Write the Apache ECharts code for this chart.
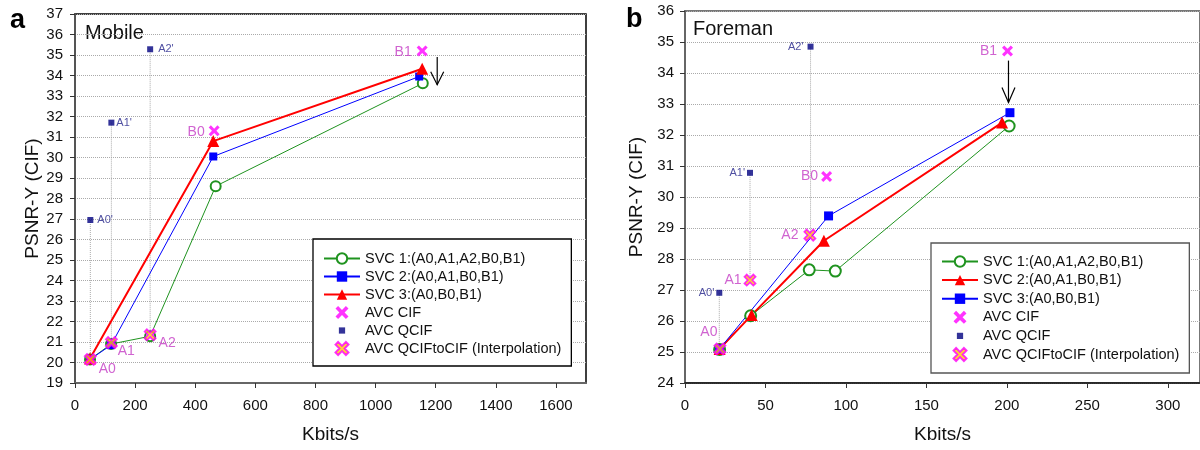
<!DOCTYPE html>
<html><head><meta charset="utf-8">
<script src="https://cdn.jsdelivr.net/npm/echarts@6/dist/echarts.min.js"></script>
<style>html,body{margin:0;padding:0;background:#fff}#c{width:1200px;height:450px}</style>
</head><body><div id="c"></div>
<script>
const FONT = 'Liberation Sans, Arial, sans-serif';

// ---------- Panel a: Mobile ----------
const mobileSvc1X = [50, 120, 250, 468, 1157];
const mobileSvc1Y = [20.15, 20.9, 21.28, 28.6, 33.62];
const mobileSvc2X = [50, 120, 460, 1145];
const mobileSvc2Y = [20.15, 20.85, 30.05, 33.95];
const mobileSvc3X = [50, 460, 1155];
const mobileSvc3Y = [20.2, 30.8, 34.33];
const mobileCifX = [463, 1155];
const mobileCifY = [31.3, 35.2];
const mobileCifLabels = ['B0', 'B1'];
const mobileQcifX = [51, 121, 250];
const mobileQcifY = [26.95, 31.7, 35.28];
const mobileQcifLabels = ["A0'", "A1'", "A2'"];
const mobileInterpX = [51, 121, 250];
const mobileInterpY = [20.15, 20.97, 21.35];
const mobileInterpLabels = ['A0', 'A1', 'A2'];
const mobileArrow = [1205, 34.9, 33.55];
const mobileXTicks = [0, 200, 400, 600, 800, 1000, 1200, 1400, 1600];

// ---------- Panel b: Foreman ----------
const foremanSvc1X = [21.5, 40.8, 77.2, 93.4, 201.4];
const foremanSvc1Y = [25.08, 26.17, 27.65, 27.61, 32.29];
const foremanSvc2X = [21.5, 41.4, 86.3, 197];
const foremanSvc2Y = [25.1, 26.19, 28.59, 32.4];
const foremanSvc3X = [21.5, 89.2, 201.9];
const foremanSvc3Y = [25.1, 29.39, 32.72];
const foremanCifX = [88, 200.4];
const foremanCifY = [30.66, 34.71];
const foremanCifLabels = ['B0', 'B1'];
const foremanQcifX = [21.3, 40.4, 78];
const foremanQcifY = [26.91, 30.78, 34.85];
const foremanQcifLabels = ["A0'", "A1'", "A2'"];
const foremanInterpX = [21.7, 40.4, 77.6];
const foremanInterpY = [25.1, 27.32, 28.77];
const foremanInterpLabels = ['A0', 'A1', 'A2'];
const foremanArrow = [201, 34.4, 33.05];
const foremanXTicks = [0, 50, 100, 150, 200, 250, 300];

const legendLabels = ['SVC 1:(A0,A1,A2,B0,B1)', 'SVC 2:(A0,A1,B0,B1)', 'SVC 3:(A0,B0,B1)',
  'AVC CIF', 'AVC QCIF', 'AVC QCIFtoCIF (Interpolation)'];

// ---------- styles ----------
const X_PATH = 'path://M0,2 L2,0 L5,3 L8,0 L10,2 L7,5 L10,8 L8,10 L5,7 L2,10 L0,8 L3,5 Z';
const QCIF_LEGEND_ICON = 'path://M0,0 M10,10 M2.6,2.6 L7.4,2.6 L7.4,7.4 L2.6,7.4 Z';
const GREEN = '#1f931f', BLUE = '#0000ff', RED = '#ff0000', MAG = '#ff00ff', NAVY = '#000080';
const LABEL_MAG = '#c43cc4', LABEL_NAVY = '#23238a';

function pairs(xs, ys) { return xs.map((x, i) => [x, ys[i]]); }

function lineSeries(name, gi, xs, ys, color, symbol, size, width) {
  return {
    name, type: 'line', xAxisIndex: gi, yAxisIndex: gi, data: pairs(xs, ys),
    symbol, symbolSize: size, showAllSymbol: true, z: 3,
    lineStyle: { color, width },
    itemStyle: { color, borderColor: color, borderWidth: symbol === 'emptyCircle' ? 1 : 0 },
    emphasis: { disabled: true }
  };
}

function scatterSeries(name, gi, xs, ys, labels, labelCfg, symbol, size, itemStyle, labelStyle, z) {
  return {
    name, type: 'scatter', xAxisIndex: gi, yAxisIndex: gi, z,
    symbol, symbolSize: size, itemStyle,
    emphasis: { disabled: true },
    data: xs.map((x, i) => ({
      value: [x, ys[i]],
      label: Object.assign({ show: true, formatter: labels[i] }, labelStyle, labelCfg[i])
    }))
  };
}

function connectors(gi, xs, yTop, yBottom) {
  return xs.map((x, i) => ({
    type: 'line', xAxisIndex: gi, yAxisIndex: gi, silent: true, z: 1,
    symbol: 'none', data: [[x, yTop[i]], [x, yBottom[i]]],
    lineStyle: { type: 'dotted', color: '#aaa', width: 1 }
  }));
}

function arrowSeries(gi, arrow, headLen) {
  return {
    type: 'custom', xAxisIndex: gi, yAxisIndex: gi, silent: true, z: 6,
    data: [arrow], encode: { x: 0, y: [1, 2] },
    renderItem: (params, api) => {
      const p1 = api.coord([api.value(0), api.value(1)]);
      const p2 = api.coord([api.value(0), api.value(2)]);
      return {
        type: 'group', children: [
          { type: 'line', shape: { x1: p1[0], y1: p1[1], x2: p2[0], y2: p2[1] }, style: { stroke: '#000', lineWidth: 1.2 } },
          { type: 'polyline', shape: { points: [[p2[0] - 6.5, p2[1] - headLen], [p2[0], p2[1]], [p2[0] + 6.5, p2[1] - headLen]] },
            style: { stroke: '#000', fill: null, lineWidth: 1.2 } }
        ]
      };
    }
  };
}

const magLabel = { fontSize: 14, fontFamily: FONT, color: LABEL_MAG };
const navyLabel = { fontSize: 11, fontFamily: FONT, color: LABEL_NAVY };
const cifStyle = { color: MAG };
const qcifStyle = { color: NAVY };
const interpStyle = { color: '#ffcc00', borderColor: '#ff00ff', borderWidth: 1.8 };

function xAxisOpt(gi, max, interval, ticks, lineColor, lineWidth) {
  return {
    type: 'value', gridIndex: gi, min: 0, max, interval,
    axisLine: { show: true, onZero: false, lineStyle: { color: lineColor, width: lineWidth } },
    axisTick: { show: true, length: 5, lineStyle: { color: '#333' }, customValues: ticks },
    axisLabel: { customValues: ticks, fontSize: 15, fontFamily: FONT, color: '#111', margin: 15,
      formatter: v => String(v) },
    splitLine: { show: false },
    name: 'Kbits/s', nameLocation: 'middle', nameGap: 42,
    nameTextStyle: { fontSize: 19, fontFamily: FONT, color: '#111' }
  };
}
function yAxisOpt(gi, min, max, lineColor, gap, margin) {
  return {
    type: 'value', gridIndex: gi, min, max, interval: 1,
    axisLine: { show: true, lineStyle: { color: lineColor, width: 2 } },
    axisTick: { show: true, length: 5, lineStyle: { color: '#333' } },
    axisLabel: { fontSize: 15, fontFamily: FONT, color: '#111', margin },
    splitLine: { show: true, lineStyle: { type: 'dotted', color: '#aaa', width: 1 } },
    name: 'PSNR-Y (CIF)', nameLocation: 'middle', nameGap: gap,
    nameTextStyle: { fontSize: 19, fontFamily: FONT, color: '#111' }
  };
}

function legendOpt(prefix, left, top, gap, pad, border) {
  return {
    orient: 'vertical', left, top, itemWidth: 36, itemHeight: 13, itemGap: gap,
    padding: pad, borderColor: border, borderWidth: 1.3, backgroundColor: '#fff',
    selectedMode: false, z: 10,
    formatter: n => n.slice(2),
    textStyle: { fontSize: 14.5, fontFamily: FONT, color: '#111', lineHeight: 15 },
    data: legendLabels.map((l, i) => i === 4 ? { name: prefix + l, icon: QCIF_LEGEND_ICON } : prefix + l)
  };
}

const A = 'a|', B = 'b|';
const series = [
  ...connectors(0, mobileQcifX, mobileQcifY, mobileInterpY),
  lineSeries(A + legendLabels[0], 0, mobileSvc1X, mobileSvc1Y, GREEN, 'emptyCircle', 10, 1),
  lineSeries(A + legendLabels[1], 0, mobileSvc2X, mobileSvc2Y, BLUE, 'rect', 8, 1),
  lineSeries(A + legendLabels[2], 0, mobileSvc3X, mobileSvc3Y, RED, 'triangle', 12, 2),
  scatterSeries(A + legendLabels[3], 0, mobileCifX, mobileCifY, mobileCifLabels,
    [{ position: 'left', offset: [1, 1] }, { position: 'left', offset: [0, 1] }], X_PATH, 11, cifStyle, magLabel, 4),
  scatterSeries(A + legendLabels[4], 0, mobileQcifX, mobileQcifY, mobileQcifLabels,
    [{ position: 'right', offset: [-1, 0] }, { position: 'right', offset: [-3, 0] }, { position: 'right', offset: [0, 0] }], 'rect', 6, qcifStyle, navyLabel, 4),
  scatterSeries(A + legendLabels[5], 0, mobileInterpX, mobileInterpY, mobileInterpLabels,
    [{ position: 'right', offset: [-3, 10] }, { position: 'right', offset: [-5, 9] }, { position: 'right', offset: [-3, 8] }], X_PATH, 11, interpStyle, magLabel, 5),
  arrowSeries(0, mobileArrow, 13),

  ...connectors(1, foremanQcifX, foremanQcifY, foremanInterpY),
  lineSeries(B + legendLabels[0], 1, foremanSvc1X, foremanSvc1Y, GREEN, 'emptyCircle', 11, 1),
  lineSeries(B + legendLabels[1], 1, foremanSvc2X, foremanSvc2Y, RED, 'triangle', 12, 2),
  lineSeries(B + legendLabels[2], 1, foremanSvc3X, foremanSvc3Y, BLUE, 'rect', 9, 1),
  scatterSeries(B + legendLabels[3], 1, foremanCifX, foremanCifY, foremanCifLabels,
    [{ position: 'left', offset: [2, 0] }, { position: 'left', offset: [0, 0] }], X_PATH, 11, cifStyle, magLabel, 4),
  scatterSeries(B + legendLabels[4], 1, foremanQcifX, foremanQcifY, foremanQcifLabels,
    [{ position: 'left', offset: [3, 0] }, { position: 'left', offset: [3, 0] }, { position: 'left', offset: [1, 0] }], 'rect', 6, qcifStyle, navyLabel, 4),
  scatterSeries(B + legendLabels[5], 1, foremanInterpX, foremanInterpY, foremanInterpLabels,
    [{ position: 'top', offset: [-11, 2] }, { position: 'left', offset: [3, 0] }, { position: 'left', offset: [0, 0] }], X_PATH, 11, interpStyle, magLabel, 5),
  arrowSeries(1, foremanArrow, 15)
];

const chart = echarts.init(document.getElementById('c'), null, { renderer: 'canvas' });
chart.setOption({
  animation: false,
  backgroundColor: '#fff',
  grid: [
    { left: 75, top: 14, width: 511, height: 369, show: true, borderColor: '#000', borderWidth: 1.5, backgroundColor: 'transparent' },
    { left: 685, top: 11, width: 516, height: 372, show: true, borderColor: '#777', borderWidth: 2, backgroundColor: 'transparent' }
  ],
  xAxis: [
    xAxisOpt(0, 1700, 200, mobileXTicks, '#666', 2),
    xAxisOpt(1, 320, 50, foremanXTicks, '#111', 1.5)
  ],
  yAxis: [
    yAxisOpt(0, 19, 37, '#555', 32, 12),
    yAxisOpt(1, 24, 36, '#666', 39, 11)
  ],
  legend: [
    legendOpt(A, 313, 239, 3, [12, 10, 10, 10], '#000'),
    legendOpt(B, 931, 243, 3.6, [11, 10, 11, 10], '#555')
  ],
  graphic: [
    { type: 'text', x: 10, y: 21, style: { text: 'a', fontSize: 27, fontWeight: 'bold', fontFamily: FONT, fill: '#000', verticalAlign: 'middle' } },
    { type: 'text', x: 626, y: 20, style: { text: 'b', fontSize: 27, fontWeight: 'bold', fontFamily: FONT, fill: '#000', verticalAlign: 'middle' } },
    { type: 'text', x: 85, y: 33, style: { text: 'Mobile', fontSize: 20, fontFamily: FONT, fill: '#111', verticalAlign: 'middle' } },
    { type: 'text', x: 693, y: 29, style: { text: 'Foreman', fontSize: 20, fontFamily: FONT, fill: '#111', verticalAlign: 'middle' } }
  ],
  series
});
</script></body></html>
